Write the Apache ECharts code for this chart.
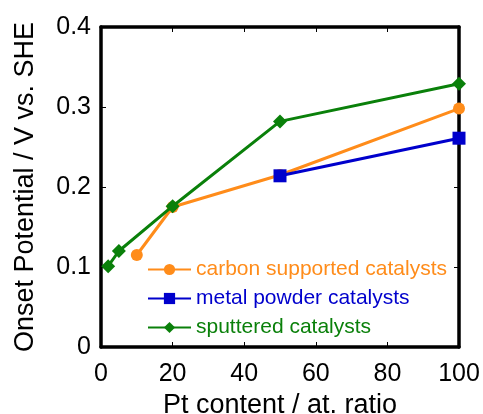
<!DOCTYPE html>
<html><head><meta charset="utf-8">
<script src="https://cdn.jsdelivr.net/npm/echarts@6/dist/echarts.min.js"></script>
<style>html,body{margin:0;padding:0;background:#fff}#c{width:483px;height:414px}</style>
</head><body><div id="c"></div>
<script>
const carbonX = [10, 20, 50, 100];
const carbonY = [0.115, 0.175, 0.215, 0.298];
const metalX = [50, 100];
const metalY = [0.214, 0.261];
const sputterX = [2, 5, 20, 50, 100];
const sputterY = [0.101, 0.12, 0.176, 0.282, 0.329];
const names = ['carbon supported catalysts', 'metal powder catalysts', 'sputtered catalysts'];
const colors = ['#ff8c1a', '#0000cc', '#0a800a'];
const xTicks = [0, 20, 40, 60, 80, 100];
const yTicks = [0, 0.1, 0.2, 0.3, 0.4];

const zip = (a, b) => a.map((v, i) => [v, b[i]]);
const font = 'Liberation Sans, Arial, sans-serif';
const axisBase = {
  axisLine: { show: true, onZero: false, lineStyle: { color: '#000', width: 3.5 } },
  axisTick: { show: true, inside: true, length: 5, lineStyle: { color: '#000', width: 1 } },
  splitLine: { show: false }
};
const chart = echarts.init(document.getElementById('c'));
chart.setOption({
  animation: false,
  grid: { left: 101, right: 24, top: 27, bottom: 67, containLabel: false, outerBoundsMode: 'none' },
  xAxis: [
    Object.assign({}, axisBase, {
      type: 'value', min: 0, max: 100, interval: 20, position: 'bottom',
      name: 'Pt content / at. ratio', nameLocation: 'middle', nameGap: 42,
      nameTextStyle: { fontFamily: font, fontSize: 27, color: '#000' },
      axisLabel: { fontFamily: font, fontSize: 25, color: '#000', margin: 15,
        formatter: v => xTicks.includes(v) ? String(v) : '' }
    }),
    Object.assign({}, axisBase, {
      type: 'value', min: 0, max: 100, interval: 20, position: 'top',
      axisLabel: { show: false }
    })
  ],
  yAxis: [
    Object.assign({}, axisBase, {
      type: 'value', min: 0, max: 0.4, interval: 0.1, position: 'left',
      name: 'Onset Potential / V vs. SHE', nameLocation: 'middle', nameGap: 62,
      nameTextStyle: { fontFamily: font, fontSize: 27, color: '#000' },
      axisLabel: { fontFamily: font, fontSize: 25, color: '#000', margin: 10,
        formatter: v => { const t = yTicks.find(k => Math.abs(k - v) < 1e-9); return t === undefined ? '' : (t === 0 ? '0' : t.toFixed(1)); } }
    }),
    Object.assign({}, axisBase, {
      type: 'value', min: 0, max: 0.4, interval: 0.1, position: 'right',
      axisLabel: { show: false }
    })
  ],
  legend: {
    orient: 'vertical', left: 147, top: 259, padding: 0,
    itemWidth: 43, itemHeight: 14, itemGap: 8,
    textStyle: { fontFamily: font, fontSize: 21, padding: [0, 0, 0, 0] },
    data: names.map((n, i) => ({ name: n, textStyle: { color: colors[i] } }))
  },
  series: [
    { name: names[0], type: 'line', data: zip(carbonX, carbonY), color: colors[0],
      symbol: 'circle', symbolSize: 12, lineStyle: { width: 3 }, z: 3 },
    { name: names[1], type: 'line', data: zip(metalX, metalY), color: colors[1],
      symbol: 'rect', symbolSize: 13, lineStyle: { width: 3 }, z: 4 },
    { name: names[2], type: 'line', data: zip(sputterX, sputterY), color: colors[2],
      symbol: 'diamond', symbolSize: 14, lineStyle: { width: 3 }, z: 5 }
  ]
});
</script></body></html>
